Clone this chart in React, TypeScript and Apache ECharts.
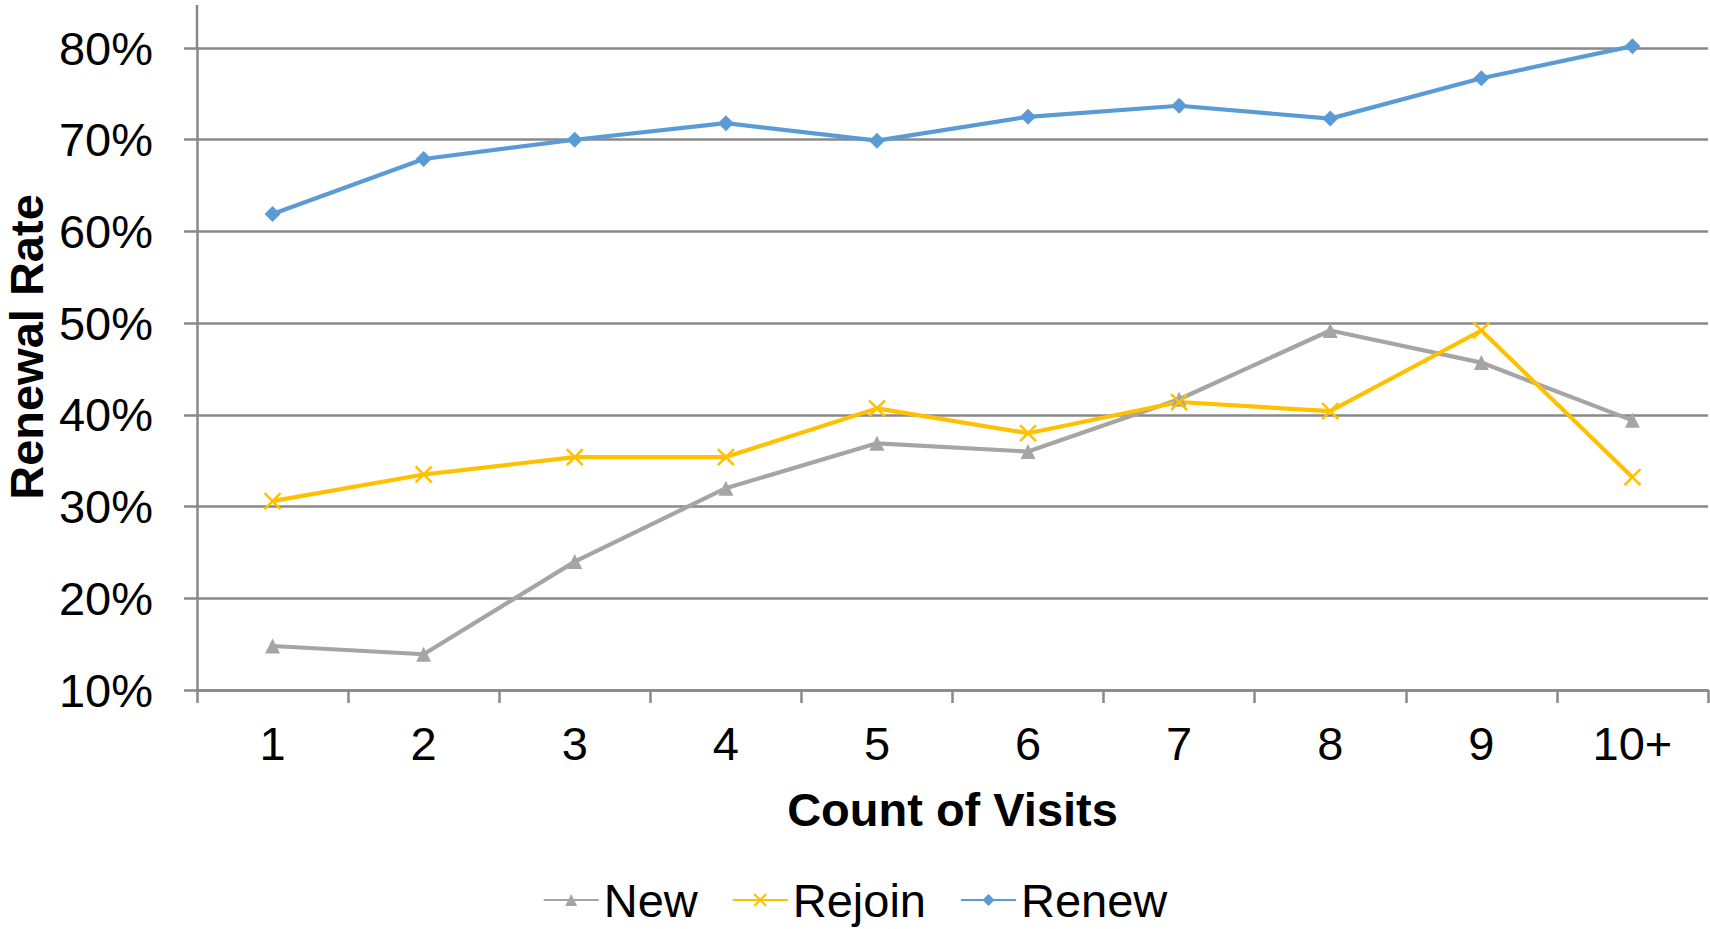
import React, { useEffect, useRef } from "react";
import * as echarts from "echarts";

const categories = ["1", "2", "3", "4", "5", "6", "7", "8", "9", "10+"];
const newValues = [0.148, 0.139, 0.24, 0.32, 0.369, 0.36, 0.417, 0.492, 0.457, 0.394];
const rejoinValues = [0.306, 0.335, 0.354, 0.354, 0.407, 0.38, 0.414, 0.404, 0.492, 0.332];
const renewValues = [0.619, 0.679, 0.7, 0.718, 0.699, 0.725, 0.737, 0.723, 0.767, 0.802];
const seriesNames = ["New", "Rejoin", "Renew"];
const xTitle = "Count of Visits";
const yTitle = "Renewal Rate";

const FONT = "'Liberation Sans', Arial, sans-serif";
const GRID = "#898989";

export default function App() {
  const ref = useRef<HTMLDivElement>(null);
  useEffect(() => {
    if (!ref.current) return;
    const chart = echarts.init(ref.current, undefined, { renderer: "svg" });
    const xPath = "path://M0,0 L10,10 M10,0 L0,10";
    chart.setOption({
      animation: false,
      backgroundColor: "#ffffff",
      textStyle: { fontFamily: FONT },
      grid: { left: 197, right: 2, top: 48, bottom: 239 },
      legend: {
        data: seriesNames,
        left: "center",
        top: 870,
        itemWidth: 55,
        itemHeight: 15,
        itemGap: 34,
        textStyle: { fontSize: 47, color: "#000", fontFamily: FONT, lineHeight: 50 },
      },
      graphic: [
        {
          type: "line",
          shape: { x1: 197, y1: 5, x2: 197, y2: 48 },
          style: { stroke: GRID, lineWidth: 2.5 },
        },
        {
          type: "text",
          x: 26,
          y: 347,
          rotation: Math.PI / 2,
          style: {
            text: yTitle,
            fontSize: 47,
            fontWeight: "bold",
            fontFamily: FONT,
            fill: "#000",
            textAlign: "center",
            textVerticalAlign: "middle",
          },
        },
      ],
      xAxis: {
        type: "category",
        data: categories,
        boundaryGap: true,
        name: xTitle,
        nameLocation: "middle",
        nameGap: 96,
        nameTextStyle: { fontSize: 47, fontWeight: "bold", color: "#000", fontFamily: FONT },
        axisLine: { lineStyle: { color: GRID, width: 2.5 } },
        axisTick: { show: true, length: 13, lineStyle: { color: GRID, width: 2.5 } },
        axisLabel: { fontSize: 47, color: "#000", margin: 30, fontFamily: FONT },
        splitLine: { show: false },
      },
      yAxis: {
        type: "value",
        min: 0.1,
        max: 0.8,
        interval: 0.1,
        axisLine: { show: true, lineStyle: { color: GRID, width: 2.5 } },
        axisTick: { show: true, length: 13, lineStyle: { color: GRID, width: 2.5 } },
        axisLabel: {
          fontSize: 47,
          color: "#000",
          margin: 44,
          fontFamily: FONT,
          formatter: (v: number) => Math.round(v * 100) + "%",
        },
        splitLine: { show: true, lineStyle: { color: GRID, width: 2.5 } },
      },
      series: [
        {
          name: seriesNames[0],
          type: "line",
          data: newValues,
          color: "#A5A5A5",
          clip: false,
          symbol: "triangle",
          symbolSize: 15,
          lineStyle: { width: 4.2, color: "#A5A5A5" },
          itemStyle: { color: "#A5A5A5" },
        },
        {
          name: seriesNames[1],
          type: "line",
          data: rejoinValues,
          color: "#FFC000",
          clip: false,
          symbol: xPath,
          symbolSize: 16,
          lineStyle: { width: 4.2, color: "#FFC000" },
          itemStyle: { color: "#FFC000", borderColor: "#FFC000", borderWidth: 2.5 },
        },
        {
          name: seriesNames[2],
          type: "line",
          data: renewValues,
          color: "#5B9BD5",
          clip: false,
          symbol: "diamond",
          symbolSize: 16,
          lineStyle: { width: 4.2, color: "#5B9BD5" },
          itemStyle: { color: "#5B9BD5" },
        },
      ],
    });
    return () => chart.dispose();
  }, []);
  return (
    <div
      ref={ref}
      style={{ position: "fixed", left: 0, top: 0, width: 1710, height: 929, background: "#fff" }}
    />
  );
}
